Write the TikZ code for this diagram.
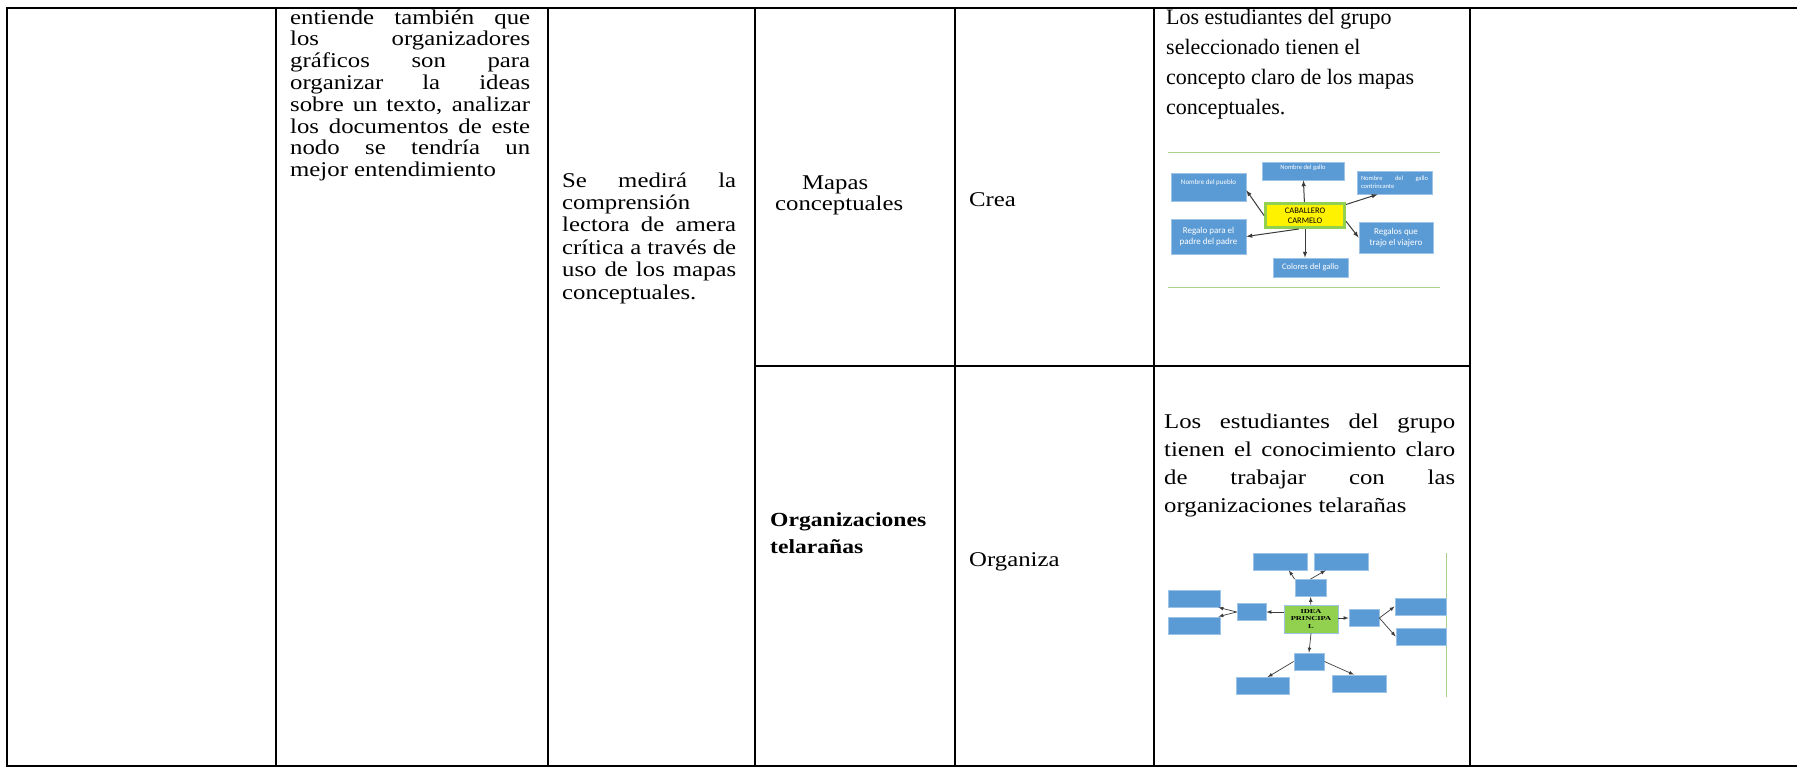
\documentclass[tikz,border=0pt]{standalone}
\usepackage{fontspec}
\setmainfont[FakeStretch=1.18]{Liberation Serif}
\newfontfamily\picfont{Liberation Serif}
\newfontfamily\mapfont{Carlito}
\newfontfamily\ideafont[FakeStretch=1.4]{Liberation Serif}
\usetikzlibrary{arrows}
\usetikzlibrary{positioning}

\definecolor{boxblue}{HTML}{5B9BD5}
\definecolor{boxedge}{HTML}{9DC3E6}
\definecolor{leafgreen}{HTML}{92D050}
\definecolor{paleline}{HTML}{A9D18E}
\definecolor{arrowgray}{HTML}{3A3A3A}

\tikzset{
  rule/.style={line width=2.6pt},
  celltext/.style={anchor=north west, inner sep=0pt, align=justify},
  plaintext/.style={anchor=base west, inner sep=0pt, font=\fontsize{21}{22}\selectfont},
  bluebox/.style={draw=boxedge, line width=0.8pt, fill=boxblue, inner sep=0pt,
    text=white, align=center, font=\mapfont\fontsize{7}{8}\selectfont},
  link/.style={->, >=latex, draw=arrowgray, line width=1pt},
}

\hyphenpenalty=10000
\tolerance=9999
\hfuzz=4pt

\begin{document}
\begin{tikzpicture}[x=1pt, y=-1pt]
  \useasboundingbox (0,0) rectangle (1797,769);

  % table
  \draw[rule] (1797,8) -- (7,8) -- (7,766) -- (1797,766);
  \foreach \xcol in {276,548,755,955,1154,1470}
    \draw[rule] (\xcol,8) -- (\xcol,766);
  \draw[rule] (755,366) -- (1470,366);

  % column texts
  \node[celltext, text width=240pt, font=\fontsize{21}{21.8}\selectfont] (ideas) at (290,8.7)
    {\strut entiende también que\linebreak los organizadores\linebreak gráficos son para\linebreak
     organizar la ideas\linebreak sobre un texto, analizar\linebreak los documentos de este\linebreak
     nodo se tendría un\linebreak mejor entendimiento};
  \node[celltext, text width=174pt, font=\fontsize{21}{22.4}\selectfont] (medida) at (562,171.3)
    {\strut Se medirá la\linebreak comprensión\newline lectora de amera\linebreak crítica a través de\linebreak
     uso de los mapas\linebreak conceptuales.};

  \node[plaintext] (mapas) at (802,189) {Mapas};
  \node[plaintext] (conceptuales) at (775,210) {conceptuales};
  \node[plaintext] (crea) at (969,206) {Crea};

  \node[plaintext, font=\bfseries\fontsize{20}{22}\selectfont] (organizaciones) at (770,526) {Organizaciones};
  \node[plaintext, font=\bfseries\fontsize{20}{22}\selectfont] (telaranas) at (770,553) {telarañas};
  \node[plaintext] (organiza) at (969,566.5) {Organiza};

  \node[celltext, align=left, font=\picfont\fontsize{22}{30}\selectfont] (logro) at (1166,3.5)
    {\strut Los estudiantes del grupo\\ seleccionado tienen el\\ concepto claro de los mapas\\ conceptuales.};
  \node[celltext, text width=291pt, font=\fontsize{21}{28}\selectfont] (logrotela) at (1164,408.4)
    {\strut Los estudiantes del grupo\linebreak tienen el conocimiento claro\linebreak de trabajar con las\linebreak
     organizaciones telarañas};

  % concept map: Caballero Carmelo
  \draw[paleline, line width=1pt] (1168,152) -- (1440,152);
  \draw[paleline, line width=1pt] (1168,287) -- (1440,287);
  \node[bluebox, minimum width=82pt, minimum height=18pt, text depth=7.4pt, font=\mapfont\fontsize{6.5}{7}\selectfont] (gallo) at (1303,171) {Nombre del gallo};
  \node[bluebox, minimum width=75pt, minimum height=28pt, text depth=9.5pt, font=\mapfont\fontsize{7}{8}\selectfont] (pueblo) at (1208.5,187) {Nombre del pueblo};
  \node[bluebox, minimum width=75pt, minimum height=23pt, text width=67pt, align=justify, font=\mapfont\fontsize{6.5}{7.5}\selectfont] (rival) at (1394.5,182.5) {Nombre del gallo contrincante};
  \node[bluebox, minimum width=75pt, minimum height=35pt, font=\mapfont\fontsize{9}{11}\selectfont] (regalo) at (1208.5,236.5) {Regalo para el\\ padre del padre};
  \node[bluebox, minimum width=74pt, minimum height=31pt, font=\mapfont\fontsize{9}{11}\selectfont] (viajero) at (1396,237.5) {Regalos que\\ trajo el viajero};
  \node[bluebox, minimum width=75pt, minimum height=19pt, font=\mapfont\fontsize{8.5}{10}\selectfont] (colores) at (1310.5,267.5) {Colores del gallo};
  \node[draw=leafgreen, line width=3pt, fill=yellow, minimum width=79pt, minimum height=24pt, inner sep=0pt,
        align=center, font=\mapfont\fontsize{8.5}{10}\selectfont] (centro) at (1305,215.5) {CABALLERO\\ CARMELO};
  \draw[link] (centro) -- (gallo);
  \draw[link] (centro.west) -- (pueblo.-5);
  \draw[link] (centro.15) -- (rival.-145);
  \draw[link] (centro.-115) -- (regalo.east);
  \draw[link] (centro.-8) -- (viajero.west);
  \draw[link] (centro.south) -- (centro.south |- colores.north);

  % concept map: telarana
  \draw[paleline, line width=1pt] (1446,553) -- (1446,697);
  \tikzset{leaf/.style={bluebox, minimum width=#1, minimum height=17pt}}
  \node[leaf=31pt] (topm) at (1310.5,588) {};
  \node[leaf=54pt] (topl) at (1280,561.5) {};
  \node[leaf=54pt] (topr) at (1341,561.5) {};
  \node[leaf=29pt] (leftm) at (1251.5,612) {};
  \node[leaf=52pt] (leftt) at (1194,598.5) {};
  \node[leaf=52pt] (leftb) at (1194,625.5) {};
  \node[leaf=30pt] (rightm) at (1364,618) {};
  \node[leaf=51pt] (rightt) at (1420.5,606.5) {};
  \node[leaf=50pt] (rightb) at (1421,636.5) {};
  \node[leaf=30pt] (botm) at (1309,661.5) {};
  \node[leaf=53pt] (botl) at (1262.5,686) {};
  \node[leaf=54pt] (botr) at (1359,683.5) {};
  \node[draw=boxedge, line width=0.8pt, fill=leafgreen, minimum width=54pt, minimum height=28pt, inner sep=0pt,
        align=center, font=\ideafont\bfseries\fontsize{6}{7.5}\selectfont] (idea) at (1311,619) {IDEA\\ PRINCIPA\\ L};
  \draw[link, line width=0.7pt] (idea) -- (topm);
  \draw[link, line width=0.7pt] (topm.north west) -- (topl.-45);
  \draw[link, line width=0.7pt] (topm.north) -- (topr.-150);
  \draw[link, line width=0.7pt] (idea.west |- leftm) -- (leftm.east);
  \draw[link, line width=0.7pt] (leftm.west) -- (leftt.-20);
  \draw[link, line width=0.7pt] (leftm.west) -- (leftb.20);
  \draw[link, line width=0.7pt] (idea.east |- rightm) -- (rightm.west);
  \draw[link, line width=0.7pt] (rightm.east) -- (rightt.west);
  \draw[link, line width=0.7pt] (rightm.east) -- (rightb.west);
  \draw[link, line width=0.7pt] (idea.south) -- (botm.north);
  \draw[link, line width=0.7pt] (botm.west) -- (botl.60);
  \draw[link, line width=0.7pt] (botm.east) -- (botr.120);
\end{tikzpicture}
\end{document}
